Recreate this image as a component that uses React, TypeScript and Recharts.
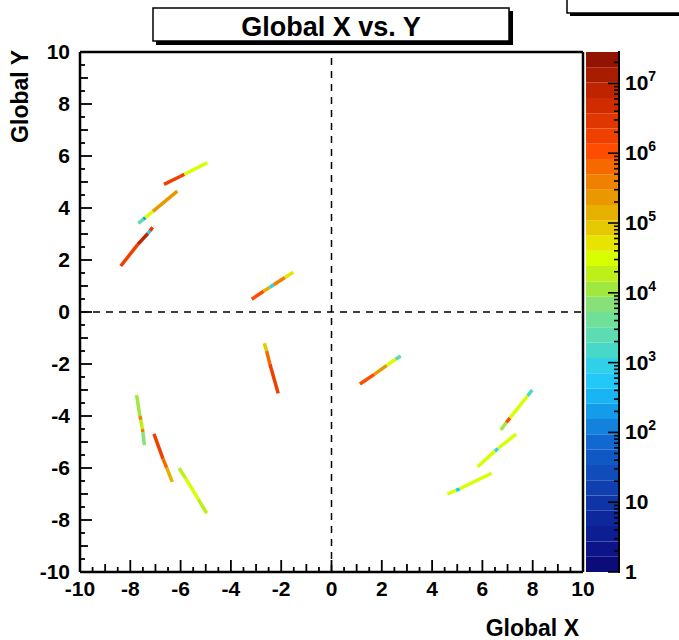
import React from 'react';
import { ScatterChart, Scatter, XAxis, YAxis, ReferenceLine, BarChart, Bar } from 'recharts';

// axis ticks (every 0.5, labels on even values)
const axisTicks = Array.from({ length: 41 }, (_, i) => -10 + i * 0.5);
const frameEdges = [-10, 10];
const decadeLabels = ['1', '10', '2', '3', '4', '5', '6', '7'];

// log10 of the colour axis top
const zMaxLog = 7.45;

// rainbow palette, bottom (1) -> top
const palette = [
  '#0b0b7a', '#0c1488', '#0d1e92', '#0e289c', '#0f34a6', '#1040b0', '#104cba', '#1058c4',
  '#1068d0', '#1282dc', '#149ce8', '#18b4f4', '#22c8f8', '#30d0e8', '#48d8c8', '#5cdcb0',
  '#70e098', '#88e078', '#a0e840', '#bcf018', '#d8ff00', '#e6e400', '#e4c800', '#e6b000',
  '#ea9800', '#ef8000', '#f66800', '#ff4c00', '#f04000', '#e03600', '#d02c00', '#be2400',
  '#a81c00', '#921400',
];

// tracks: [x, y, log10(content) of the piece starting here]
const trackA = [[-6.66, 4.91, 6.2], [-6.0, 5.22, 6.3], [-5.85, 5.3, 4.6], [-4.94, 5.74, 4.6]];
const trackB = [[-7.68, 3.41, 3.4], [-7.48, 3.57, 2.3], [-7.4, 3.63, 4.6], [-7.1, 3.87, 5.4], [-6.13, 4.65, 5.4]];
const trackC = [[-8.38, 1.77, 6.3], [-7.7, 2.6, 6.9], [-7.3, 3.02, 2.8], [-7.22, 3.12, 6.4], [-7.11, 3.26, 6.4]];
const trackD = [[-3.17, 0.49, 6.1], [-2.7, 0.8, 5.2], [-2.45, 0.95, 3.0], [-2.3, 1.05, 5.5], [-1.85, 1.33, 4.8], [-1.52, 1.53, 4.8]];
const trackE = [[-2.67, -1.2, 5.0], [-2.58, -1.5, 5.9], [-2.45, -2.0, 6.2], [-2.12, -3.13, 6.2]];
const trackF = [[-7.75, -3.19, 4.1], [-7.62, -4.0, 5.5], [-7.58, -4.15, 4.2], [-7.52, -4.5, 5.5], [-7.5, -4.62, 3.9], [-7.44, -5.12, 3.9]];
const trackG = [[-7.06, -4.69, 6.3], [-6.7, -5.65, 5.8], [-6.55, -6.0, 5.2], [-6.33, -6.53, 5.2]];
const trackH = [[-6.06, -6.01, 4.3], [-5.8, -6.4, 4.6], [-5.3, -7.2, 4.3], [-4.96, -7.74, 4.3]];
const trackI = [[1.13, -2.77, 6.0], [1.7, -2.4, 5.3], [2.2, -2.05, 4.6], [2.55, -1.82, 3.3], [2.75, -1.69, 3.3]];
const trackJ = [[6.73, -4.54, 4.0], [6.95, -4.25, 6.0], [7.1, -4.07, 4.5], [7.8, -3.22, 3.1], [7.98, -3.0, 3.1]];
const trackK = [[5.81, -5.95, 4.4], [6.5, -5.35, 3.0], [6.62, -5.25, 4.6], [7.34, -4.7, 4.6]];
const trackL = [[4.61, -7.0, 4.5], [4.95, -6.86, 2.8], [5.1, -6.8, 4.6], [6.37, -6.2, 4.6]];

const tracks = [trackA, trackB, trackC, trackD, trackE, trackF, trackG, trackH, trackI, trackJ, trackK, trackL];

const FONT = "'Liberation Sans', Arial, Helvetica, sans-serif";

const zColor = (z: number) => {
  const i = Math.min(palette.length - 1, Math.max(0, Math.floor((z / zMaxLog) * palette.length)));
  return palette[i];
};

function MainTick(props: any) {
  const { x, y, payload, side } = props;
  const v = payload.value;
  const even = Math.abs(v % 2) < 1e-6;
  const odd = !even && Math.abs(v - Math.round(v)) < 1e-6;
  const len = even ? 12 : odd ? 8 : 5;
  let d = '';
  if (side === 'bottom') d = `M${x},${y}V${y - len}`;
  if (side === 'top') d = `M${x},${y}V${y + len}`;
  if (side === 'left') d = `M${x},${y}H${x + len}`;
  if (side === 'right') d = `M${x},${y}H${x - len}`;
  const label = String(Math.round(v));
  return (
    <g>
      <path d={d} stroke="#000" strokeWidth={1.8} fill="none" />
      {even && side === 'bottom' && (
        <text x={x} y={y + 24} textAnchor="middle" fontFamily={FONT} fontWeight="bold" fontSize={21} fill="#000">
          {label}
        </text>
      )}
      {even && side === 'left' && (
        <text x={x - 10} y={y + 7} textAnchor="end" fontFamily={FONT} fontWeight="bold" fontSize={21} fill="#000">
          {label}
        </text>
      )}
    </g>
  );
}

const zTicks: number[] = [];
for (let d = 0; d < 8; d++) {
  for (let k = 1; k < 10; k++) {
    const v = d + Math.log10(k);
    if (v <= zMaxLog) zTicks.push(v);
  }
}

function ZTick(props: any) {
  const { x, y, payload } = props;
  const v = payload.value;
  const major = Math.abs(v - Math.round(v)) < 1e-6;
  const len = major ? 11 : 5;
  const d = Math.round(v);
  return (
    <g>
      <path d={`M${x},${y}H${x - len}`} stroke="#000" strokeWidth={1.6} fill="none" />
      {major && (
        <text x={x + 6} y={y + 7} textAnchor="start" fontFamily={FONT} fontWeight="bold" fontSize={21} fill="#000">
          {d < 2 ? decadeLabels[d] : '10'}
          {d >= 2 && (
            <tspan dy={-9} fontSize={14}>
              {decadeLabels[d]}
            </tspan>
          )}
        </text>
      )}
    </g>
  );
}

const bandRow: Record<string, any> = { name: 'z' };
palette.forEach((_, i) => {
  bandRow[`b${i}`] = zMaxLog / palette.length;
});

export default function App() {
  const axisLine = { stroke: '#000', strokeWidth: 2 };
  return (
    <div style={{ position: 'absolute', left: 0, top: 0, width: 679, height: 640, background: '#fff' }}>
      <div style={{ position: 'absolute', left: 0, top: 0 }}>
        <ScatterChart width={679} height={640} margin={{ top: 52, right: 96, bottom: 0, left: 0 }}>
          <XAxis
            xAxisId="b"
            type="number"
            dataKey="x"
            orientation="bottom"
            domain={[-10, 10]}
            allowDataOverflow
            ticks={axisTicks}
            interval={0}
            height={68}
            tickSize={0}
            tickMargin={0}
            stroke="#000"
            axisLine={axisLine}
            tick={(p: any) => <MainTick {...p} side="bottom" />}
          />
          <XAxis
            xAxisId="t"
            type="number"
            orientation="top"
            domain={[-10, 10]}
            allowDataOverflow
            ticks={axisTicks}
            interval={0}
            height={0}
            tickSize={0}
            tickMargin={0}
            stroke="#000"
            axisLine={axisLine}
            tick={(p: any) => <MainTick {...p} side="top" />}
          />
          <YAxis
            yAxisId="l"
            type="number"
            dataKey="y"
            orientation="left"
            domain={[-10, 10]}
            allowDataOverflow
            ticks={axisTicks}
            interval={0}
            width={80}
            tickSize={0}
            tickMargin={0}
            stroke="#000"
            axisLine={axisLine}
            tick={(p: any) => <MainTick {...p} side="left" />}
          />
          <YAxis
            yAxisId="r"
            type="number"
            orientation="right"
            domain={[-10, 10]}
            allowDataOverflow
            ticks={axisTicks}
            interval={0}
            width={0}
            tickSize={0}
            tickMargin={0}
            stroke="#000"
            axisLine={axisLine}
            tick={(p: any) => <MainTick {...p} side="right" />}
          />
          {frameEdges.map((v) => (
            <ReferenceLine key={`fx${v}`} xAxisId="b" yAxisId="l" x={v} stroke="#000" strokeWidth={2.5} ifOverflow="visible" />
          ))}
          {frameEdges.map((v) => (
            <ReferenceLine key={`fy${v}`} xAxisId="b" yAxisId="l" y={v} stroke="#000" strokeWidth={2.5} ifOverflow="visible" />
          ))}
          <ReferenceLine xAxisId="b" yAxisId="l" x={0} stroke="#000" strokeWidth={1.5} strokeDasharray="7 6" />
          <ReferenceLine xAxisId="b" yAxisId="l" y={0} stroke="#000" strokeWidth={1.5} strokeDasharray="7 6" />
          {tracks.flatMap((t, ti) =>
            t.slice(0, -1).map((p, i) => {
              const q = t[i + 1];
              return (
                <ReferenceLine
                  key={`tr-${ti}-${i}`}
                  xAxisId="b"
                  yAxisId="l"
                  segment={[
                    { x: p[0], y: p[1] },
                    { x: q[0], y: q[1] },
                  ]}
                  stroke={zColor(p[2])}
                  strokeWidth={3.5}
                />
              );
            })
          )}
          <Scatter xAxisId="b" yAxisId="l" data={[]} isAnimationActive={false} />
        </ScatterChart>
      </div>

      {/* colour bar bands */}
      <div style={{ position: 'absolute', left: 586, top: 0 }}>
        <BarChart
          width={93}
          height={640}
          data={[bandRow]}
          margin={{ top: 52, right: 60, bottom: 68, left: 0 }}
          barCategoryGap={0}
          barGap={0}
        >
          <XAxis dataKey="name" hide />
          <YAxis type="number" domain={[0, zMaxLog]} allowDataOverflow hide />
          {palette.map((c, i) => (
            <Bar key={c + i} dataKey={`b${i}`} stackId="z" fill={c} isAnimationActive={false} />
          ))}
        </BarChart>
      </div>

      {/* colour bar axis, drawn on top of the bands */}
      <div style={{ position: 'absolute', left: 586, top: 0 }}>
        <BarChart width={93} height={640} data={[bandRow]} margin={{ top: 52, right: 0, bottom: 68, left: 0 }}>
          <XAxis dataKey="name" hide />
          <YAxis
            type="number"
            orientation="right"
            domain={[0, zMaxLog]}
            allowDataOverflow
            ticks={zTicks}
            interval={0}
            width={60}
            tickSize={0}
            tickMargin={0}
            stroke="#000"
            axisLine={axisLine}
            tick={(p: any) => <ZTick {...p} />}
          />
        </BarChart>
      </div>

      <svg width={679} height={640} style={{ position: 'absolute', left: 0, top: 0, pointerEvents: 'none' }}>
        {/* colour bar right edge */}
        <path d="M619,51V573" stroke="#000" strokeWidth={2} fill="none" />
        {/* partial stats box */}
        <rect x={570} y={-10} width={130} height={26} fill="#000" />
        <rect x={567} y={-10} width={130} height={23} fill="#fff" stroke="#000" strokeWidth={1.5} />
        {/* title */}
        <rect x={156} y={11} width={357} height={34} fill="#000" />
        <rect x={153} y={8} width={356} height={33} fill="#fff" stroke="#000" strokeWidth={1.5} />
        <text x={331} y={36} textAnchor="middle" fontFamily={FONT} fontWeight="bold" fontSize={27} fill="#000">
          Global X vs. Y
        </text>
        <text x={579} y={636} textAnchor="end" fontFamily={FONT} fontWeight="bold" fontSize={23} fill="#000">
          Global X
        </text>
        <text
          x={28}
          y={50}
          textAnchor="end"
          transform="rotate(-90, 28, 50)"
          fontFamily={FONT}
          fontWeight="bold"
          fontSize={23}
          fill="#000"
        >
          Global Y
        </text>
      </svg>
    </div>
  );
}
